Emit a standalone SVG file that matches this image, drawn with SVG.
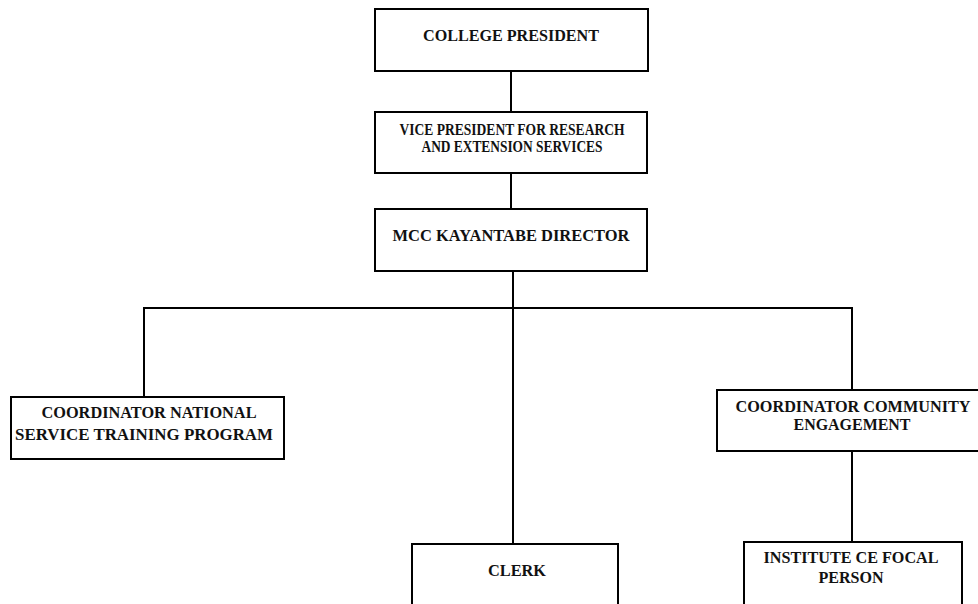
<svg xmlns="http://www.w3.org/2000/svg" width="978" height="604" viewBox="0 0 978 604">
<style>
.box{fill:#fff;stroke:#000;stroke-width:2}
.t{font-family:"Liberation Serif","Times New Roman",serif;font-weight:bold;font-size:16px;fill:#111;text-anchor:middle}
.c{stroke:#000;stroke-width:2;fill:none}
</style>
<rect width="978" height="604" fill="#fff"/>
<g id="connectors">
<line class="c" x1="511" y1="71" x2="511" y2="112"/>
<line class="c" x1="511" y1="173" x2="511" y2="209"/>
<line class="c" x1="513" y1="271" x2="513" y2="544"/>
<polyline class="c" points="144,397 144,308 852,308 852,390"/>
<line class="c" x1="852" y1="451" x2="852" y2="542"/>
</g>
<g id="college-president">
<rect class="box" x="375" y="9" width="273" height="62"/>
<text class="t" x="511" y="41" textLength="176" lengthAdjust="spacingAndGlyphs">COLLEGE PRESIDENT</text>
</g>
<g id="vice-president">
<rect class="box" x="375" y="112" width="272" height="61"/>
<text class="t" x="512" y="135" textLength="225" lengthAdjust="spacingAndGlyphs">VICE PRESIDENT FOR RESEARCH</text>
<text class="t" x="512" y="152" textLength="181" lengthAdjust="spacingAndGlyphs">AND EXTENSION SERVICES</text>
</g>
<g id="director">
<rect class="box" x="375" y="209" width="272" height="62"/>
<text class="t" x="511" y="241" textLength="237" lengthAdjust="spacingAndGlyphs">MCC KAYANTABE DIRECTOR</text>
</g>
<g id="nstp">
<rect class="box" x="11" y="397" width="273" height="62"/>
<text class="t" x="149" y="418" textLength="215" lengthAdjust="spacingAndGlyphs">COORDINATOR NATIONAL</text>
<text class="t" x="144" y="440" textLength="258" lengthAdjust="spacingAndGlyphs">SERVICE TRAINING PROGRAM</text>
</g>
<g id="community-engagement">
<rect class="box" x="717" y="390" width="270" height="61"/>
<text class="t" x="853" y="412" textLength="235" lengthAdjust="spacingAndGlyphs">COORDINATOR COMMUNITY</text>
<text class="t" x="852" y="430" textLength="117" lengthAdjust="spacingAndGlyphs">ENGAGEMENT</text>
</g>
<g id="clerk">
<rect class="box" x="412" y="544" width="206" height="80"/>
<text class="t" x="517" y="576" textLength="58" lengthAdjust="spacingAndGlyphs">CLERK</text>
</g>
<g id="ce-focal-person">
<rect class="box" x="744" y="542" width="218" height="80"/>
<text class="t" x="851" y="563" textLength="175" lengthAdjust="spacingAndGlyphs">INSTITUTE CE FOCAL</text>
<text class="t" x="851" y="583" textLength="65" lengthAdjust="spacingAndGlyphs">PERSON</text>
</g>
</svg>
